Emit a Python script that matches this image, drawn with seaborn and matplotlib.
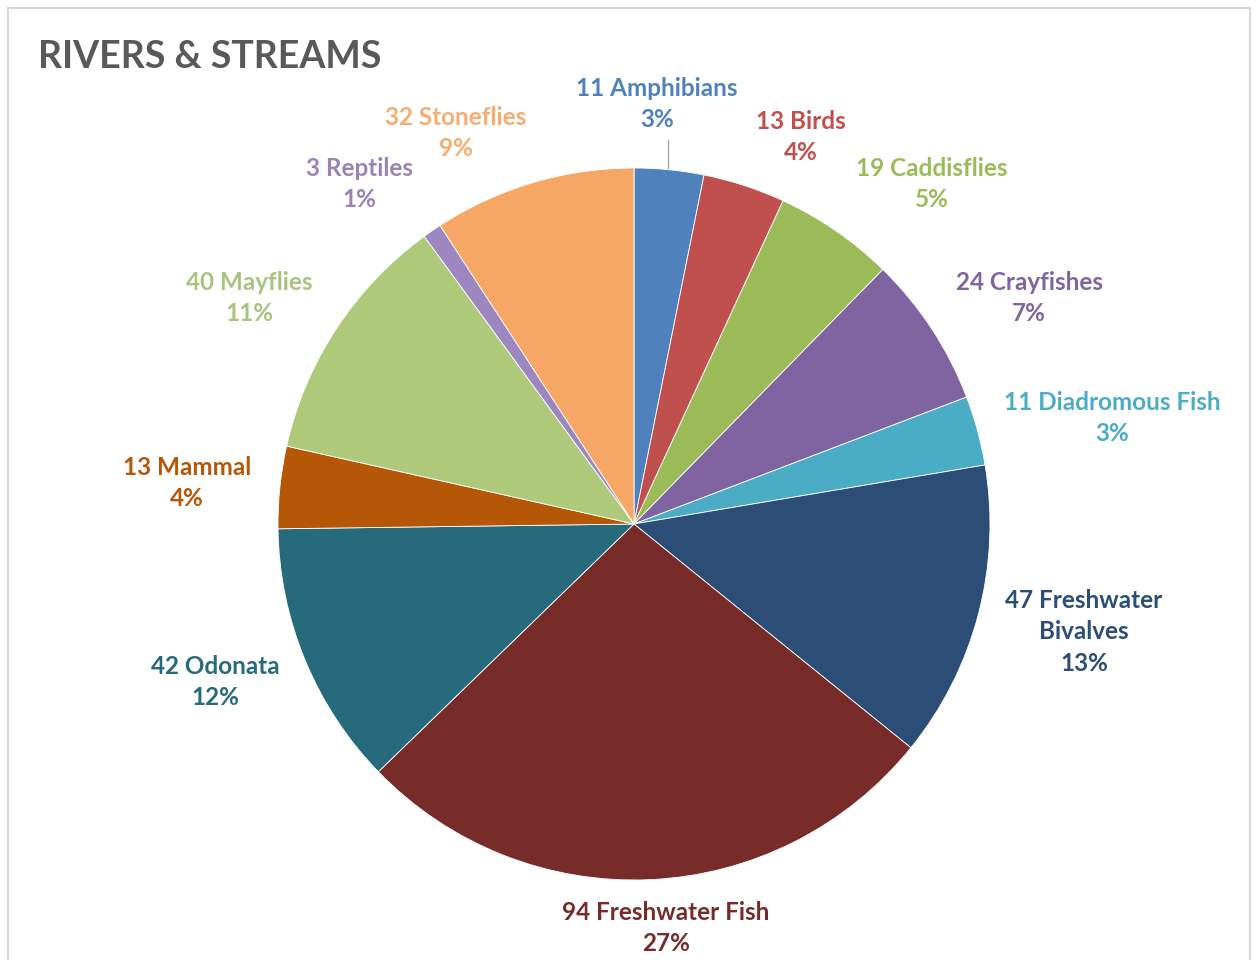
import matplotlib
matplotlib.use("Agg")
import matplotlib.pyplot as plt
import seaborn as sns
from matplotlib.patches import Rectangle

categories = ["Amphibians", "Birds", "Caddisflies", "Crayfishes", "Diadromous Fish",
              "Freshwater\nBivalves", "Freshwater Fish", "Odonata", "Mammal",
              "Mayflies", "Reptiles", "Stoneflies"]
counts = [11, 13, 19, 24, 11, 47, 94, 42, 13, 40, 3, 32]
colors = ["#4F81BD", "#C0504D", "#9BBB59", "#8064A2", "#4BACC6", "#2C4D75",
          "#772C2A", "#276A7C", "#B65708", "#AFC97A", "#9D87C0", "#F6A766"]
label_colors = ["#4F81BD", "#C0504D", "#9BBB59", "#8064A2", "#4BACC6", "#2C4D75",
                "#772C2A", "#276A7C", "#B65708", "#A9C47F", "#9983B5", "#F4AD72"]
# label anchor positions (in units of pie radius)
label_xy = [(0.065, 1.18), (0.469, 1.087), (0.837, 0.955), (1.110, 0.635),
            (1.343, 0.298), (1.264, -0.303), (0.090, -1.135), (-1.177, -0.444),
            (-1.256, 0.115), (-1.081, 0.635), (-0.772, 0.955), (-0.50, 1.098)]

sns.set_theme(style="white")
plt.rcParams['font.family'] = ['Lato', 'DejaVu Sans']

fig = plt.figure(figsize=(12.58, 9.6), dpi=100)
fig.patch.set_facecolor("white")
fig.add_artist(Rectangle((8/1258, -0.05), (1250-8)/1258, 1 - 8/960 + 0.05,
                         transform=fig.transFigure, fill=False,
                         edgecolor="#D9D9D9", linewidth=1.5))

cx, cy, r = 634/1258, 1 - 524/960, 356
ax = fig.add_axes([cx - r/1258, cy - r/960, 2*r/1258, 2*r/960])
ax.pie(counts, colors=colors, startangle=90, counterclock=False, radius=1.0,
       wedgeprops=dict(edgecolor="white", linewidth=0.6))
ax.set_xlim(-1, 1)
ax.set_ylim(-1, 1)
ax.set_aspect("equal")
ax.axis("off")

total = sum(counts)
for name, val, col, (lx, ly) in zip(categories, counts, label_colors, label_xy):
    pct = round(100 * val / total)
    ax.text(lx, ly, f"{val} {name}\n{pct}%", ha="center", va="center",
            fontsize=17.5, fontweight="bold", color=col, linespacing=1.45,
            clip_on=False)

# leader line for Amphibians
ax.plot([0.0955, 0.0955], [1.0, 1.08], color="#A6A6A6", linewidth=1, clip_on=False)

fig.text(38/1258, 1 - 57/960, "RIVERS & STREAMS", ha="left", va="center",
         fontsize=27, fontweight="bold", color="#595959")

fig.savefig("out.png", dpi=100)
